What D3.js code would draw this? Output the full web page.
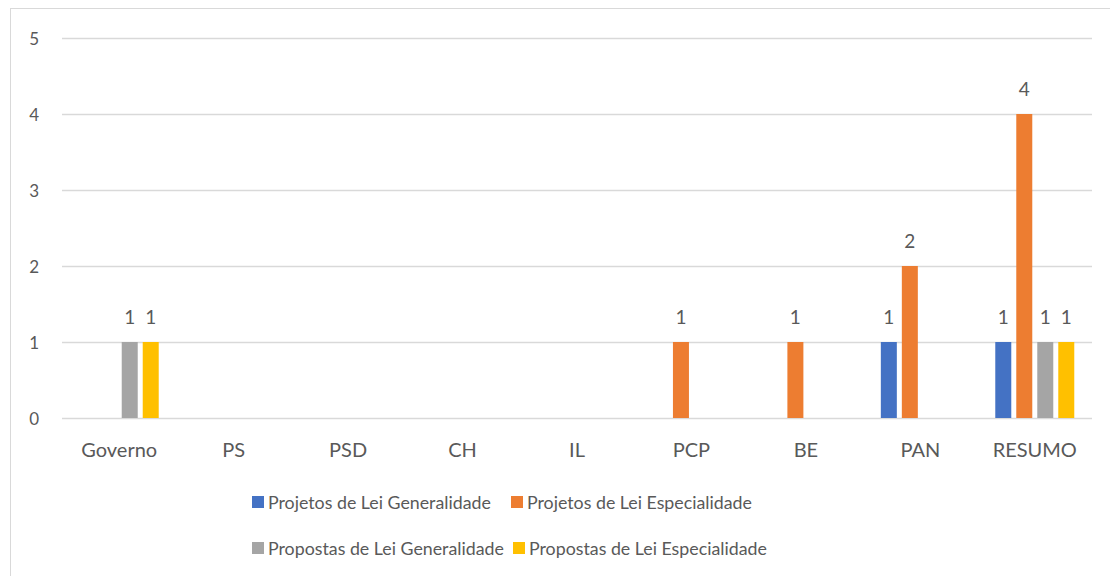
<!DOCTYPE html>
<html><head><meta charset="utf-8">
<script src="https://cdn.jsdelivr.net/npm/d3@7"></script>
<style>html,body{margin:0;padding:0;background:#fff;overflow:hidden}</style>
</head><body>
<svg id="c" width="1110" height="576"></svg>
<script>
const categories = ["Governo","PS","PSD","CH","IL","PCP","BE","PAN","RESUMO"];
const seriesNames = ["Projetos de Lei Generalidade","Projetos de Lei Especialidade","Propostas de Lei Generalidade","Propostas de Lei Especialidade"];
const projGeneralidade = [0,0,0,0,0,0,0,1,1];
const projEspecialidade = [0,0,0,0,0,1,1,2,4];
const propGeneralidade = [1,0,0,0,0,0,0,0,1];
const propEspecialidade = [1,0,0,0,0,0,0,0,1];
const yTicks = [0,1,2,3,4,5];
const colors = ["#4472C4","#ED7D31","#A5A5A5","#FFC000"];
const seriesValues = [projGeneralidade, projEspecialidade, propGeneralidade, propEspecialidade];

const svg = d3.select("#c");
const font = "Lato, 'Noto Sans', sans-serif";
const textColor = "#595959";

svg.append("rect").attr("x",10.5).attr("y",8.5).attr("width",1120).attr("height",600)
  .attr("fill","#fff").attr("stroke","#d9d9d9").attr("stroke-width",1);

const x0 = 62, x1 = 1092, yTop = 38, yBot = 418;
const x = d3.scaleBand().domain(categories).range([x0,x1]).paddingInner(0).paddingOuter(0);
const y = d3.scaleLinear().domain([0,5]).range([yBot,yTop]);

// gridlines
svg.append("g").selectAll("line").data(yTicks).join("line")
  .attr("x1",x0).attr("x2",x1)
  .attr("y1",d=>Math.round(y(d))+0.5).attr("y2",d=>Math.round(y(d))+0.5)
  .attr("stroke","#d9d9d9").attr("stroke-width",1.3);

// y labels
svg.append("g").selectAll("text").data(yTicks).join("text")
  .attr("x",39).attr("y",d=>y(d)+7).attr("text-anchor","end")
  .attr("font-family",font).attr("font-size",17).attr("fill",textColor).text(d=>d);

// bars
const barW = 16, gap = 5;
const groupW = 4*barW + 3*gap;
function j2x(j){ return j*(barW+gap); }
const data = [];
categories.forEach((c,i)=>seriesValues.forEach((s,j)=>data.push({c, j, v:s[i]})));
const bars = svg.append("g");
bars.selectAll("rect").data(data.filter(d=>d.v>0)).join("rect")
  .attr("x",d=>x(d.c)+x.bandwidth()/2-groupW/2 + j2x(d.j))
  .attr("y",d=>y(d.v)).attr("width",barW).attr("height",d=>y(0)-y(d.v))
  .attr("fill",d=>colors[d.j]);

bars.selectAll("text").data(data.filter(d=>d.v>0)).join("text")
  .attr("x",d=>x(d.c)+x.bandwidth()/2-groupW/2 + j2x(d.j) + barW/2)
  .attr("y",d=>y(d.v)-18).attr("text-anchor","middle")
  .attr("font-family",font).attr("font-size",19).attr("fill",textColor).text(d=>d.v);

// x labels
svg.append("g").selectAll("text").data(categories).join("text")
  .attr("x",d=>x(d)+x.bandwidth()/2).attr("y",457).attr("text-anchor","middle")
  .attr("font-family",font).attr("font-size",20).attr("fill",textColor).text(d=>d);

// legend
const items = [
  {j:0, sx:252, row:0},{j:1, sx:511, row:0},
  {j:2, sx:252, row:1},{j:3, sx:513, row:1}
];
const rowY = [509, 555];
const lg = svg.append("g");
lg.selectAll("rect").data(items).join("rect")
  .attr("x",d=>d.sx).attr("y",d=>rowY[d.row]-13).attr("width",12).attr("height",12)
  .attr("fill",d=>colors[d.j]);
lg.selectAll("text").data(items).join("text")
  .attr("x",d=>d.sx+16).attr("y",d=>rowY[d.row])
  .attr("font-family",font).attr("font-size",17.8).attr("fill",textColor)
  .text(d=>seriesNames[d.j]);
</script>
</body></html>
